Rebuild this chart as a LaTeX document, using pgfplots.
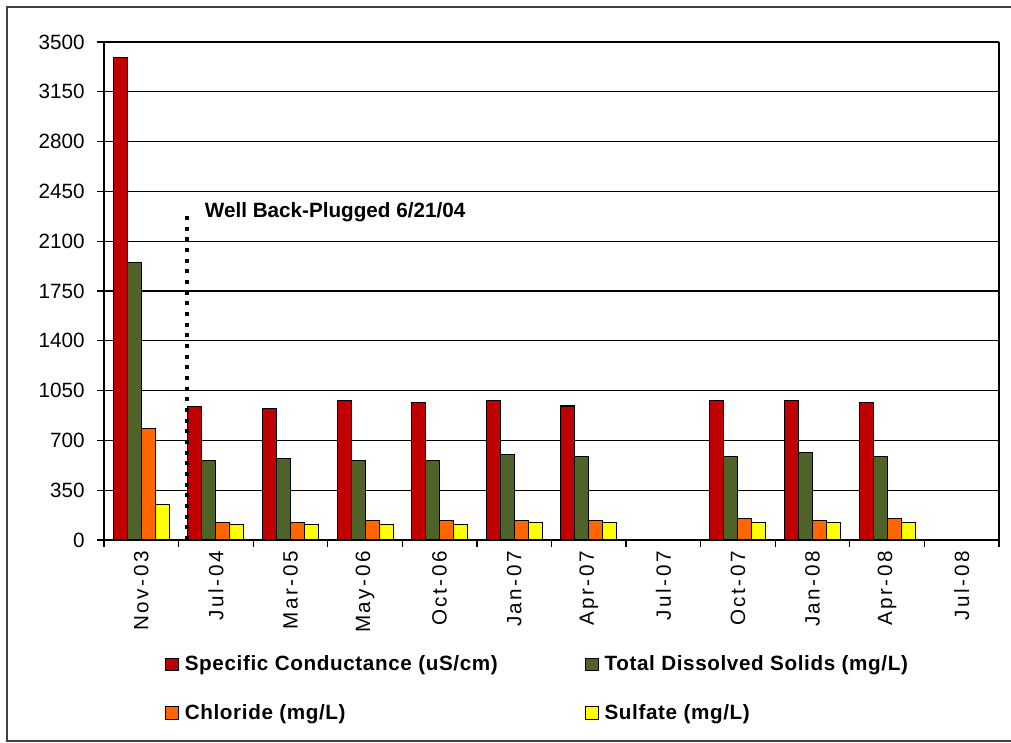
\documentclass[border=0pt]{standalone}
\usepackage{fontspec}
\setmainfont{Liberation Sans}
\usepackage{pgfplots}
\pgfplotsset{compat=1.18}

\definecolor{scond}{HTML}{C00000}
\definecolor{tds}{HTML}{4F6228}
\definecolor{chlor}{HTML}{FF6600}
\definecolor{sulf}{HTML}{FFFF00}

\newcommand{\lblfont}{\fontsize{15.5}{18}\selectfont}

\begin{document}
\begin{tikzpicture}
  \useasboundingbox (0,0) rectangle (758.25pt,557.25pt);
  % outer chart frame
  \draw[black!75, line width=1.5pt] (765pt,552pt) -- (5.25pt,552pt) -- (5.25pt,1.5pt) -- (765pt,1.5pt);
  \begin{axis}[
      at={(78pt,152.25pt)}, anchor=south west,
      scale only axis, width=671.25pt, height=373.5pt,
      ybar=0pt, bar width=10.5pt,
      xmin=-0.5, xmax=11.5,
      ymin=0, ymax=3500,
      ytick={0,350,...,3500},
      xtick={0,...,11},
      xticklabels={Nov-03,Jul-04,Mar-05,May-06,Oct-06,Jan-07,Apr-07,Jul-07,Oct-07,Jan-08,Apr-08,Jul-08},
      minor xtick={-0.5,0.5,...,11.5},
      major x tick style={draw=none},
      tick align=outside, major tick length=5pt, minor tick length=5pt,
      tick style={black, line width=0.9pt},
      ymajorgrids, grid style={black, line width=0.9pt},
      axis line style={black, line width=0.9pt},
      axis x line*=bottom, axis y line*=left,
      /pgf/number format/assume math mode=true,
      /pgf/number format/1000 sep={},
      yticklabel style={font=\lblfont, xshift=-6pt},
      xticklabel style={font=\lblfont\addfontfeature{LetterSpace=12}, rotate=90, anchor=east, yshift=0pt},
      legend style={at={(0.068,-0.227)}, anchor=north west, draw=none,
        font=\lblfont\bfseries\addfontfeature{LetterSpace=3}, legend columns=2, inner sep=0pt,
        row sep=19.5pt, cells={anchor=west},
        /tikz/every odd column/.append style={column sep=2.5pt}},
      legend image code/.code={\draw[#1, draw=black, line width=0.8pt] (0pt,-4.8pt) rectangle (9.5pt,4.8pt);},
      every axis plot/.append style={draw=black, line width=0.8pt},
      clip=false
    ]
    \addplot[fill=scond] coordinates {
      (0,3390)(1,937)(2,925)(3,979)(4,965)(5,979)(6,942)(8,979)(9,979)(10,965)};
    \addplot[fill=tds] coordinates {
      (0,1950)(1,560)(2,574)(3,560)(4,560)(5,602)(6,588)(8,588)(9,616)(10,588)};
    \addplot[fill=chlor] coordinates {
      (0,785)(1,122)(2,122)(3,138)(4,138)(5,138)(6,138)(8,152)(9,138)(10,152)};
    \addplot[fill=sulf] coordinates {
      (0,251)(1,110)(2,110)(3,110)(4,110)(5,122)(6,122)(8,122)(9,122)(10,122)};
    \legend{\makebox[298pt][l]{Specific Conductance (uS/cm)}, Total Dissolved Solids (mg/L),
            \makebox[298pt][l]{Chloride (mg/L)}, Sulfate (mg/L)}
    % right-hand border of the plot area
    \draw[black, line width=0.9pt] (axis cs:11.5,0) -- (axis cs:11.5,3500);
    % back-plug marker
    \draw[black, line width=3pt, dash pattern=on 3pt off 5pt] (axis cs:0.615,0) -- (axis cs:0.615,2280);
    \node[anchor=west, font=\lblfont\bfseries, inner sep=0pt] at (axis cs:0.85,2305) {Well Back-Plugged 6/21/04};
  \end{axis}
\end{tikzpicture}
\end{document}
